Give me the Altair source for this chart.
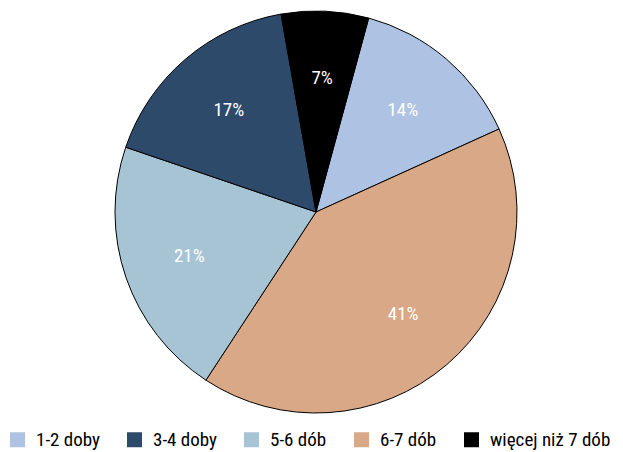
import altair as alt
import pandas as pd
import math

categories = ["1-2 doby", "6-7 dób", "5-6 dób", "3-4 doby", "więcej niż 7 dób"]
values = [14, 41, 21, 17, 7]
labels = ["14%", "41%", "21%", "17%", "7%"]
legend_order = ["1-2 doby", "3-4 doby", "5-6 dób", "6-7 dób", "więcej niż 7 dób"]
colors = ["#aec3e4", "#2e4a6b", "#a6c4d4", "#d9a886", "#000000"]

df = pd.DataFrame({"cat": categories, "val": values, "lab": labels, "idx": list(range(len(values)))})

start = 15.2 * math.pi / 180
FONT = "Roboto Condensed, Liberation Sans Narrow, Roboto"

base = alt.Chart(df).encode(
    theta=alt.Theta("val:Q", stack=True, scale=alt.Scale(range=[start, start + 2 * math.pi])),
    order=alt.Order("idx:Q"),
)

pie = base.mark_arc(radius=201, stroke="#000000", strokeWidth=1).encode(
    x=alt.value(307), y=alt.value(204),
    color=alt.Color("cat:N", scale=alt.Scale(domain=legend_order, range=colors),
                    legend=alt.Legend(title=None, orient="none", legendX=-1, legendY=422,
                                      direction="horizontal", columns=5, padding=0,
                                      symbolType="square", symbolSize=225, symbolStrokeWidth=0,
                                      labelFont=FONT, labelFontSize=19, labelFontWeight="normal",
                                      labelColor="#000000",
                                      labelOffset=9, columnPadding=25)),
)

text = base.mark_text(radius=134, font=FONT, fontSize=19, fontWeight="normal", color="white").encode(
    x=alt.value(307), y=alt.value(204), text="lab:N"
)

chart = (pie + text).properties(width=600, height=418, padding=0).configure_view(stroke=None)
chart.save("out.html", embed_options={"renderer": "svg", "actions": False})
